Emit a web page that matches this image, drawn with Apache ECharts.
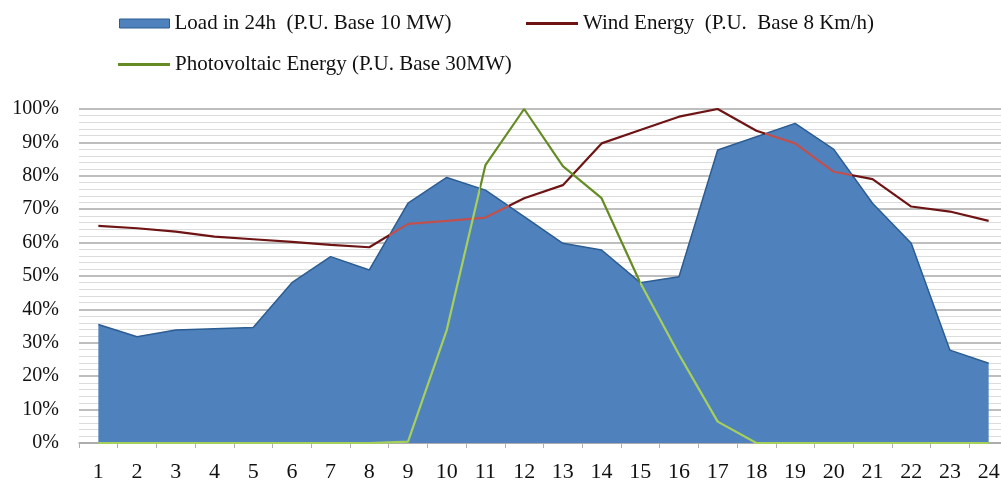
<!DOCTYPE html>
<html>
<head>
<meta charset="utf-8">
<script src="https://cdn.jsdelivr.net/npm/echarts@6/dist/echarts.min.js"></script>
<style>
html,body{margin:0;padding:0;background:#fff;}
#chart{width:1001px;height:482px;}
</style>
</head>
<body>
<div id="chart"></div>
<script>
const hours = ['1','2','3','4','5','6','7','8','9','10','11','12','13','14','15','16','17','18','19','20','21','22','23','24'];
const loadName = 'Load in 24h  (P.U. Base 10 MW)';
const windName = 'Wind Energy  (P.U.  Base 8 Km/h)';
const pvName = 'Photovoltaic Energy (P.U. Base 30MW)';
const load = [35.5, 31.8, 33.8, 34.2, 34.6, 48.0, 55.8, 51.8, 71.8, 79.5, 75.7, 67.8, 59.8, 57.8, 48.0, 49.8, 87.7, 91.7, 95.7, 87.9, 71.8, 59.8, 27.8, 23.9];
const wind = [65.0, 64.3, 63.3, 61.8, 61.0, 60.2, 59.3, 58.6, 65.6, 66.5, 67.5, 73.3, 77.2, 89.7, 93.7, 97.7, 100, 93.5, 89.7, 81.2, 79.0, 70.8, 69.3, 66.5];
const pv = [0, 0, 0, 0, 0, 0, 0, 0, 0.4, 33.8, 83.2, 100, 82.9, 73.3, 48.0, 26.5, 6.4, 0, 0, 0, 0, 0, 0, 0];

const pairs = arr => hours.map((h, i) => [Number(h), arr[i]]);

const FONT = 'Liberation Serif';
const BLUE = '#4f81bd', BLUE_EDGE = '#2b5c92';
const RED_DARK = '#6e1414', RED_LIGHT = '#c0504d';
const GREEN_DARK = '#648c23', GREEN_LIGHT = '#a6d05a';

const chart = echarts.init(document.getElementById('chart'), null, {renderer: 'canvas'});
const legendText = {fontFamily: FONT, fontSize: 21, color: '#111'};
chart.setOption({
  animation: false,
  backgroundColor: '#fff',
  textStyle: {fontFamily: FONT},
  legend: [
    {left: 119, top: 13, padding: 0, itemWidth: 50, itemHeight: 9, icon: 'rect', textStyle: legendText,
     data: [{name: loadName, itemStyle: {color: BLUE, borderColor: BLUE_EDGE, borderWidth: 1}}]},
    {left: 526, top: 13, padding: 0, itemWidth: 52, itemHeight: 3, icon: 'rect', textStyle: legendText,
     data: [{name: windName, itemStyle: {color: RED_DARK, borderWidth: 0}}]},
    {left: 118, top: 54, padding: 0, itemWidth: 52, itemHeight: 3, icon: 'rect', textStyle: legendText,
     data: [{name: pvName, itemStyle: {color: GREEN_DARK, borderWidth: 0}}]}
  ],
  visualMap: [
    {show: false, type: 'piecewise', seriesIndex: 1, dimension: 0,
     pieces: [{lt: 8.52, color: RED_DARK}, {gte: 8.52, lt: 11.6, color: RED_LIGHT}, {gte: 11.6, lt: 18.23, color: RED_DARK}, {gte: 18.23, lt: 20.48, color: RED_LIGHT}, {gte: 20.48, color: RED_DARK}]},
    {show: false, type: 'piecewise', seriesIndex: 2, dimension: 0,
     pieces: [{lt: 10.86, color: GREEN_LIGHT}, {gte: 10.86, lt: 15, color: GREEN_DARK}, {gte: 15, color: GREEN_LIGHT}]}
  ],
  grid: {left: 79, width: 929, top: 109, height: 334, containLabel: false, outerBoundsMode: 'none'},
  xAxis: [{
    type: 'category',
    data: hours,
    boundaryGap: true,
    axisLine: {lineStyle: {color: '#a8a8a8', width: 1.5}},
    axisTick: {show: true, length: 5, lineStyle: {color: '#b0b0b0'}},
    axisLabel: {fontFamily: FONT, fontSize: 22, color: '#111', margin: 18}
  }, {
    type: 'value', show: false, min: 0.5, max: 24.5,
    axisLine: {show: false}, axisTick: {show: false}, axisLabel: {show: false}, splitLine: {show: false}
  }],
  yAxis: {
    type: 'value',
    min: 0, max: 100, interval: 10,
    axisLine: {show: false},
    axisTick: {show: false},
    axisLabel: {fontFamily: FONT, fontSize: 20, color: '#111', margin: 20, formatter: '{value}%'},
    splitLine: {lineStyle: {color: '#a9a9a9', width: 1.5}},
    minorTick: {show: false, splitNumber: 5},
    minorSplitLine: {show: true, lineStyle: {color: '#dcdcdc', width: 1.2}}
  },
  series: [
    {name: loadName, type: 'line', xAxisIndex: 1, data: pairs(load), showSymbol: false, symbol: 'none',
     lineStyle: {color: BLUE_EDGE, width: 1.5}, itemStyle: {color: BLUE},
     areaStyle: {color: BLUE, opacity: 1, origin: 'start'}, z: 2},
    {name: windName, type: 'line', xAxisIndex: 1, data: pairs(wind), showSymbol: false, symbol: 'none',
     lineStyle: {width: 2.2}, itemStyle: {color: RED_DARK}, z: 3},
    {name: pvName, type: 'line', xAxisIndex: 1, data: pairs(pv), showSymbol: false, symbol: 'none',
     lineStyle: {width: 2.2}, itemStyle: {color: GREEN_DARK}, z: 4}
  ]
});
</script>
</body>
</html>
